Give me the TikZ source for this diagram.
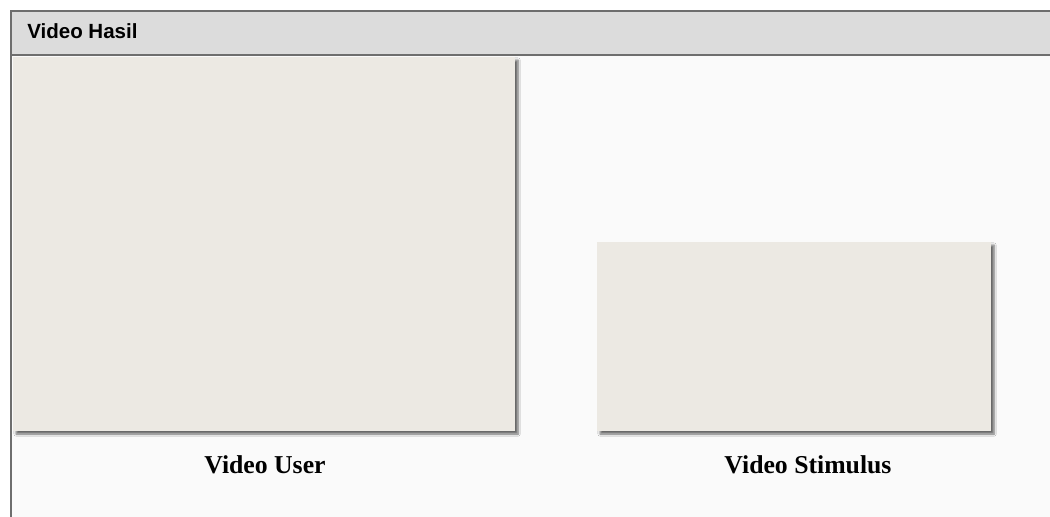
\documentclass[tikz,border=0pt]{standalone}
\usepackage{fontspec}
\setmainfont{Liberation Serif}
\setsansfont{Liberation Sans}
\usetikzlibrary{shadows.blur}
\definecolor{pagebg}{HTML}{FAFAFA}
\definecolor{barfill}{HTML}{DCDCDC}
\definecolor{framegray}{HTML}{6E6E6E}
\definecolor{panelfill}{HTML}{ECE9E3}
\tikzset{
  framestroke/.style={draw=framegray, line width=2.1pt},
  videopanel/.style={fill=panelfill, draw=none,
    blur shadow={shadow xshift=2.3pt, shadow yshift=-2.3pt,
      shadow blur radius=1.6pt, shadow opacity=58, shadow blur steps=6}},
  caption/.style={font=\fontsize{19.3pt}{22pt}\selectfont\bfseries, anchor=base, inner sep=0pt},
  bartitle/.style={font=\sffamily\fontsize{15.4pt}{18pt}\selectfont\bfseries, anchor=base west, inner sep=0pt}
}
\begin{document}
\begin{tikzpicture}[x=0.75pt, y=-0.75pt]
  % canvas
  \useasboundingbox (0,0) rectangle (1050,517);
  \fill[white] (0,0) rectangle (1050,517);
  \fill[pagebg] (11,11) rectangle (1050,517);
  % title bar
  \fill[barfill] (11,11) rectangle (1050,55);
  \draw[framestroke] (1050,11) -- (11,11) -- (11,517);
  \draw[framestroke] (11,55) -- (1050,55);
  \node[bartitle] (title) at (27,39) {Video Hasil};
  % video areas
  \path[videopanel] (13,57) rectangle (515,431);
  \coordinate (userarea) at (264,244);
  \path[videopanel] (597,242) rectangle (991,431);
  \coordinate (stimarea) at (794,336);
  % captions
  \node[caption] (userlabel) at (265,473) {Video User};
  \node[caption] (stimlabel) at (808,473) {Video Stimulus};
\end{tikzpicture}
\end{document}
